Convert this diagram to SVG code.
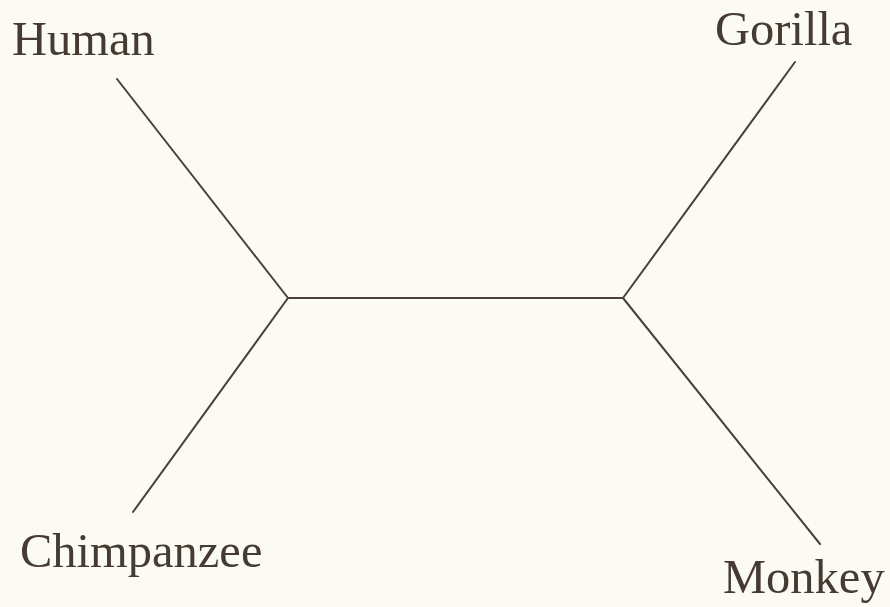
<svg xmlns="http://www.w3.org/2000/svg" width="890" height="607" viewBox="0 0 890 607">
<style>
.lbl{font-family:"Liberation Serif","Times New Roman",serif;font-size:48.5px;fill:#463b33}
.edge{stroke:#4a4038;stroke-width:2;fill:none;stroke-linecap:round}
</style>
<rect width="890" height="607" fill="#fcfbf3"/>
<g id="connectors">
<line class="edge" x1="117" y1="79" x2="288" y2="298"/>
<line class="edge" x1="288" y1="298" x2="133" y2="512"/>
<line class="edge" x1="288" y1="298" x2="623" y2="298"/>
<line class="edge" x1="623" y1="298" x2="795" y2="62"/>
<line class="edge" x1="623" y1="298" x2="820" y2="544"/>
</g>
<g id="human"><text class="lbl" x="12" y="55">Human</text></g>
<g id="gorilla"><text class="lbl" x="715" y="45">Gorilla</text></g>
<g id="chimpanzee"><text class="lbl" x="20" y="567">Chimpanzee</text></g>
<g id="monkey"><text class="lbl" x="723" y="593">Monkey</text></g>
</svg>
